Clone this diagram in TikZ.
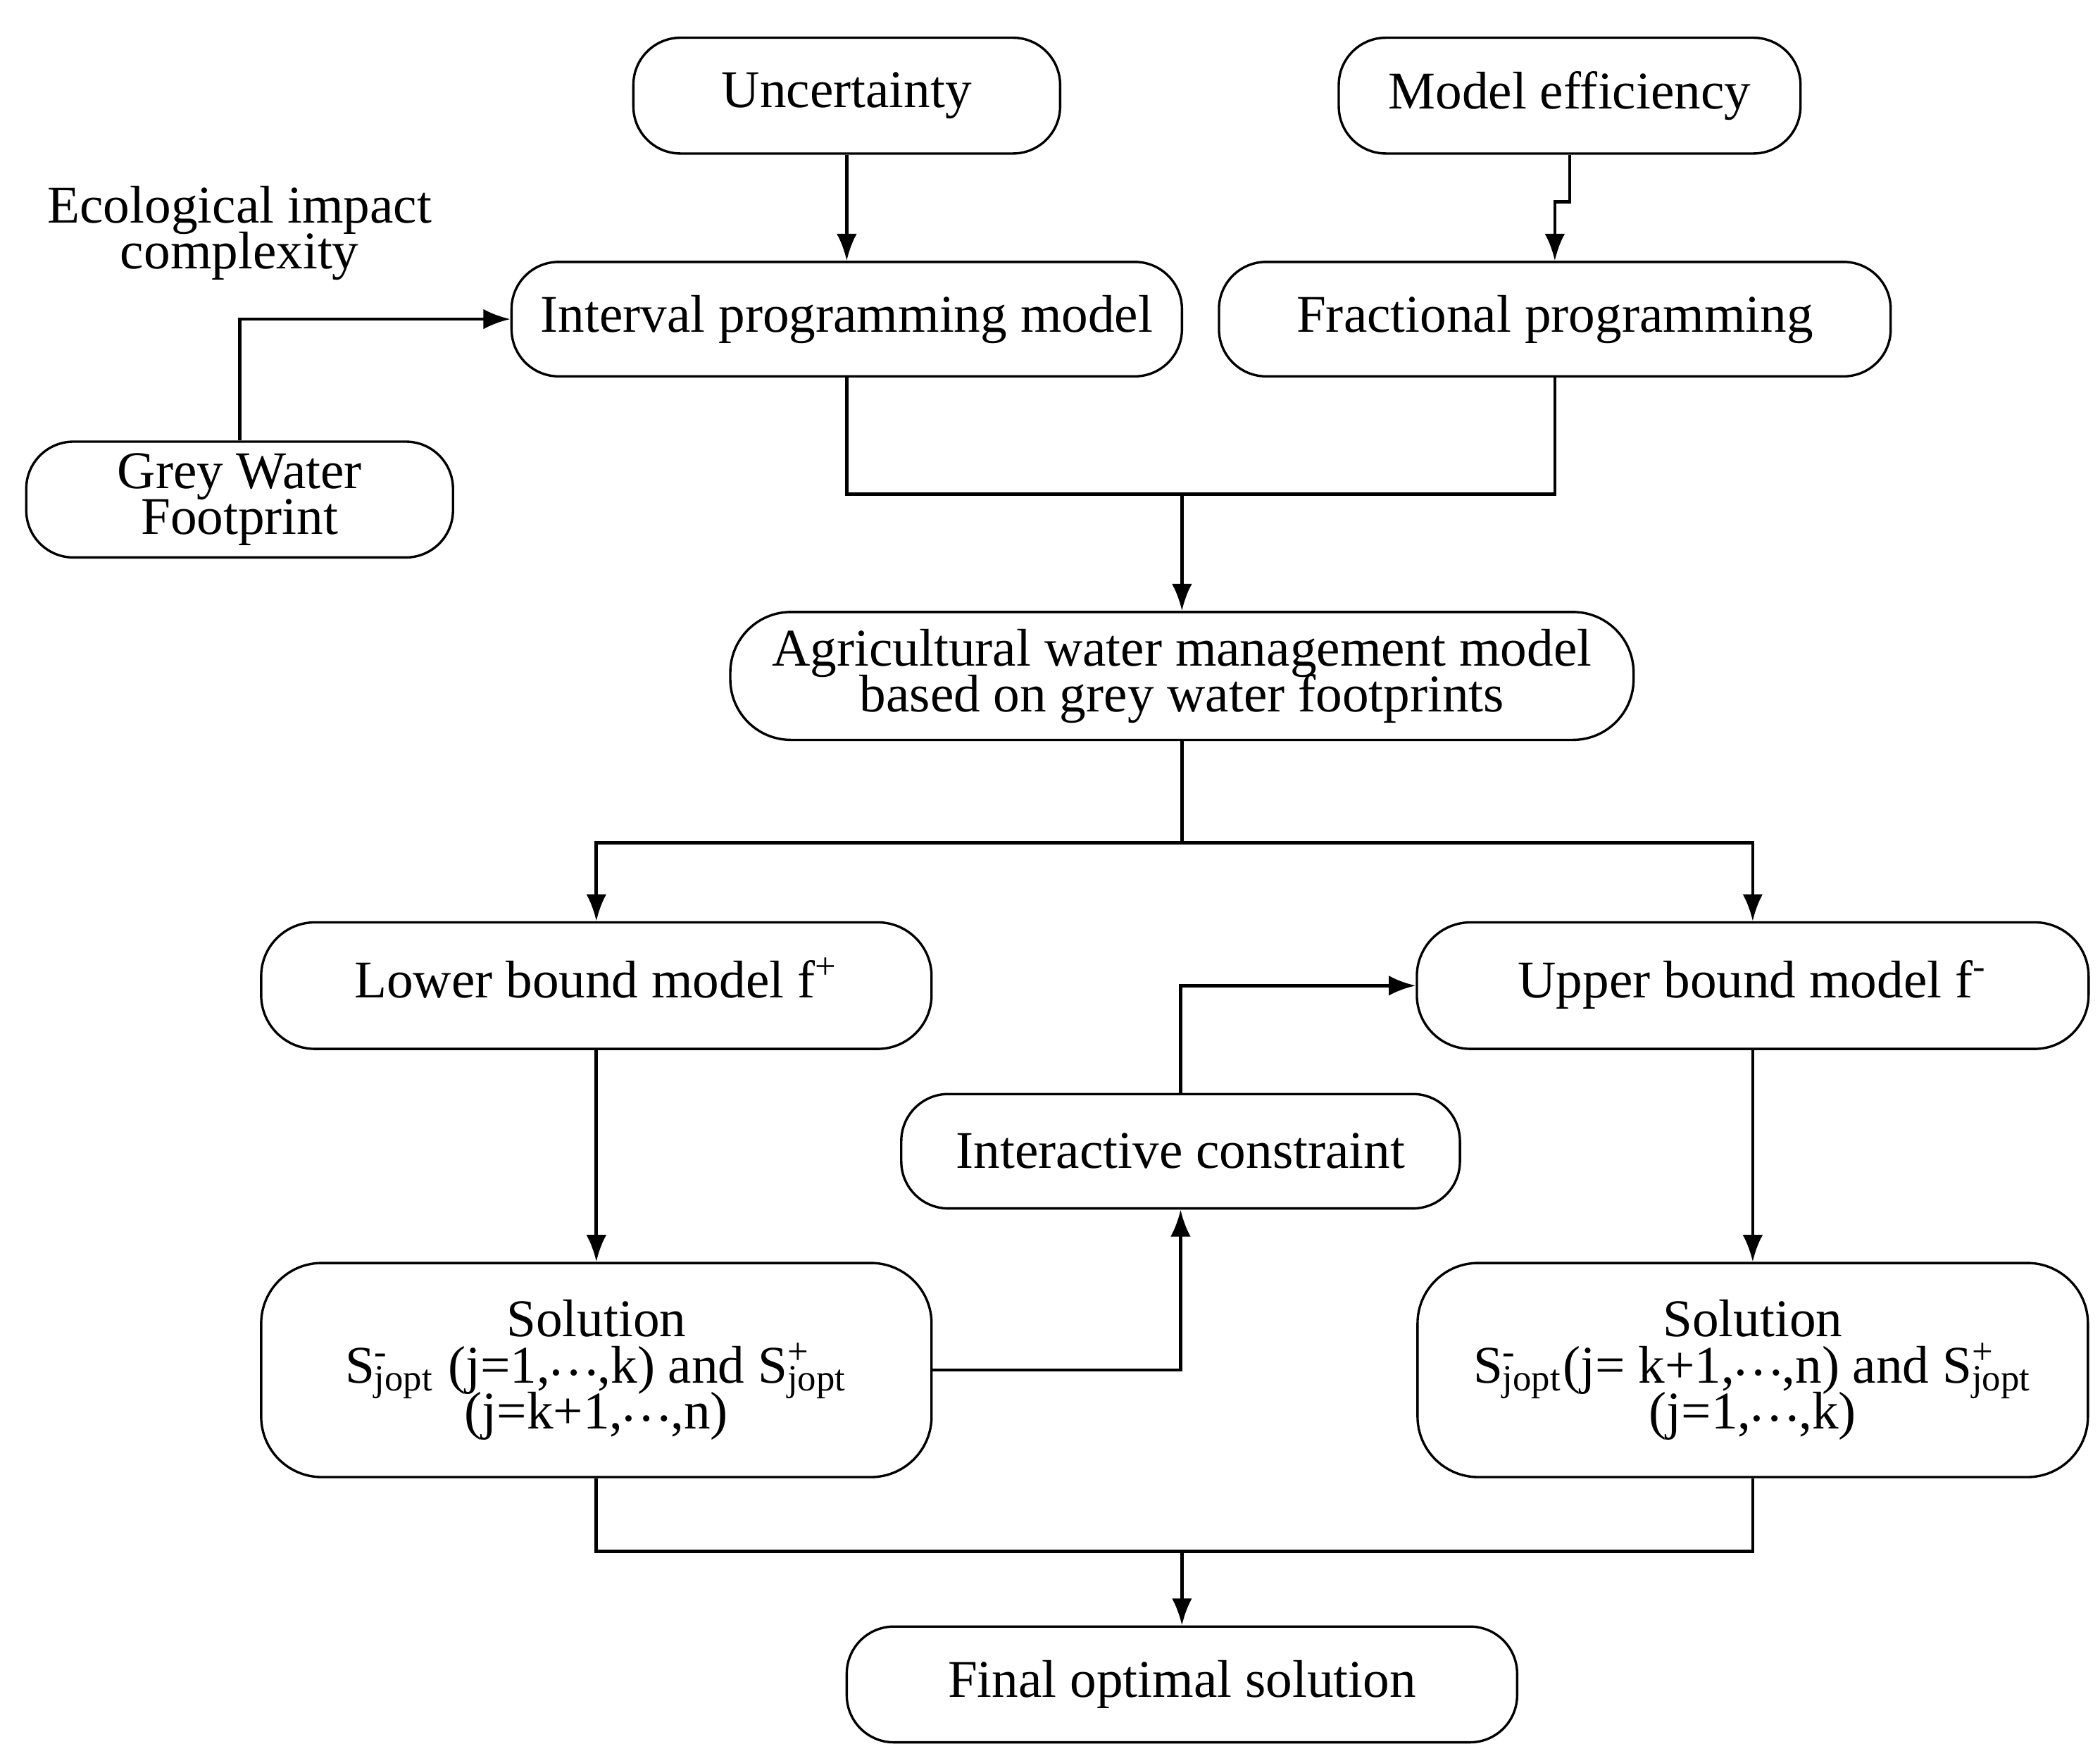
\documentclass[tikz,border=0pt]{standalone}
\usepackage{fontspec}
\setmainfont{Liberation Serif}
\usepackage{tikz}
\usetikzlibrary{positioning}
\usetikzlibrary{arrows.meta}
\newcommand{\boxfont}{\fontsize{11.2}{9.7}\selectfont\lineskiplimit=-6pt\relax}
\newcommand{\Sj}[1]{S\smash{\rlap{\textsuperscript{#1}}\textsubscript{jopt}}}
\newcommand{\dts}{\raisebox{0.3ex}{\kern-0.05em…\kern-0.05em}}

\begin{document}
\begin{tikzpicture}[>={Latex[length=2mm,width=1.5mm]},
    every node/.style = {font=\boxfont, align=center, inner sep=0pt},
    box/.style = {draw, line width=0.5pt, rounded corners=3.5mm, minimum height=8.6mm},
    bigbox/.style = {box, rounded corners=4.5mm, minimum width=49.8mm, minimum height=15.9mm},
    bound/.style = {box, minimum height=9.4mm, rounded corners=4mm, text height=1.55ex, text depth=0.45ex},
    link/.style = {line width=0.7pt}
    ]
    \useasboundingbox (0,0) rectangle (15.6,-13.04);

    \node[box, minimum width=31.7mm] (unc) at (6.29,-0.71) {Uncertainty};
    \node[box, minimum width=34.3mm] (eff) at (11.66,-0.71) {Model efficiency};
    \node (eco) at (1.78,-1.73) {Ecological impact\\complexity};
    \node[box, minimum width=49.8mm, minimum height=8.5mm] (intv) at (6.29,-2.37) {Interval programming model};
    \node[box, minimum width=49.9mm, minimum height=8.5mm] (frac) at (11.55,-2.37) {Fractional programming};
    \node[box, minimum width=31.7mm] (grey) at (1.78,-3.71) {Grey Water\\Footprint};
    \node[box, minimum width=67.1mm, minimum height=9.5mm, rounded corners=4.5mm] (agri) at (8.78,-5.02) {Agricultural water management model\\based on grey water footprints};
    \node[bound, minimum width=49.8mm] (lower) at (4.43,-7.32) {Lower bound model f\smash{\textsuperscript{+}}};
    \node[bound, minimum width=49.9mm] (upper) at (13.02,-7.32) {Upper bound model f\smash{\textsuperscript{-}}};
    \node[box, minimum width=41.5mm, minimum height=8.5mm] (inter) at (8.77,-8.55) {Interactive constraint};
    \node[bigbox] (solL) at (4.43,-10.175) {Solution\\\Sj{-} (j=1,\dts,k) and \Sj{+}\\(j=k+1,\dts,n)};
    \node[bigbox] (solR) at (13.02,-10.175) {Solution\\\Sj{-}(j= k+1,\dts,n) and \Sj{+}\\(j=1,\dts,k)};
    \node[box, minimum width=49.8mm] (final) at (8.78,-12.51) {Final optimal solution};

    \coordinate (m1) at (8.78,-3.67);
    \coordinate (m2) at (8.78,-6.26);
    \coordinate (m3) at (8.78,-11.52);

    \draw[link, ->] (unc) -- (intv);
    \draw[link, ->] (eff.south) -- ++(0,-0.35) -| (frac.north);
    \draw[link, ->] (grey.north) |- (intv.west);
    \draw[link] (intv.south) |- (m1) -| (frac.south);
    \draw[link, ->] (m1) -- (agri);
    \draw[link] (agri) -- (m2);
    \draw[link, ->] (m2) -| (lower.north);
    \draw[link, ->] (m2) -| (upper.north);
    \draw[link, ->] (lower) -- (solL);
    \draw[link, ->] (upper) -- (solR);
    \draw[link, ->] (solL.east) -| (inter.south);
    \draw[link, ->] (inter.north) |- (upper.west);
    \draw[link] (solL.south) |- (m3) -| (solR.south);
    \draw[link, ->] (m3) -- (final);
\end{tikzpicture}
\end{document}
